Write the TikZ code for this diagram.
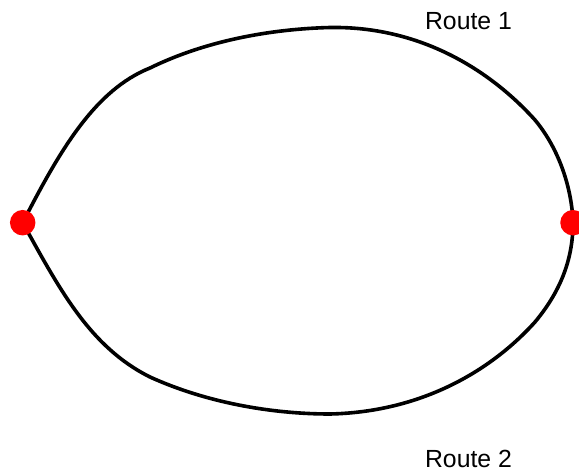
\documentclass[tikz,border=0pt]{standalone}
\usepackage{fontspec}
\setmainfont{Liberation Sans}
\begin{document}
\begin{tikzpicture}[x=1pt,y=-1pt,
  route/.style={line width=3.6pt,black},
  stop/.style={circle,fill=red,inner sep=0pt,minimum size=25.5pt},
  lbl/.style={font=\fontsize{24.8}{28}\selectfont,anchor=base,inner sep=0pt}]
\useasboundingbox (0,0) rectangle (579,471);
\coordinate (A) at (22.7,222.7);
\coordinate (B) at (573,222.7);
\draw[route] (A) .. controls (60,150) and (95,90) .. (150,68)
  .. controls (205,41) and (270,29) .. (330,27.5)
  .. controls (420,26) and (490,70) .. (535,120)
  .. controls (560,150) and (572,190) .. (B);
\draw[route] (A) .. controls (60,290) and (90,347) .. (150,377)
  .. controls (205,402) and (270,414) .. (330,414)
  .. controls (420,412) and (490,372) .. (535,322)
  .. controls (560,292) and (573,260) .. (B);
\node[stop] (a) at (A) {};
\node[stop] (b) at (B) {};
\node[lbl] (r1) at (468.5,30) {Route 1};
\node[lbl] (r2) at (468.5,467) {Route 2};
\end{tikzpicture}
\end{document}
